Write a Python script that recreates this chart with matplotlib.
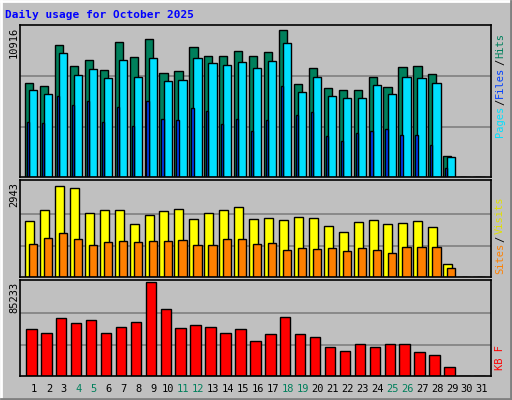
import matplotlib
matplotlib.use("Agg")
import matplotlib.pyplot as plt
import numpy as np

days = list(range(1, 32))
hits = [6772,6555,9520,8001,8435,7712,9736,8652,9953,7495,7640,9375,8724,8724,9086,8724,9013,10604,6700,7857,6411,6266,6266,7206,6483,7929,8001,7423,1494,0,0]
files = [6266,5977,8941,7351,7784,7134,8435,7206,8580,6917,6989,8580,8218,8074,8290,7857,8363,9664,6121,7206,5832,5688,5688,6628,5977,7206,7134,6772,1422,0,0]
pages = [3976,3904,5832,5206,5495,3976,5061,3663,5495,4193,4121,4989,4772,3832,4193,3326,4097,6555,4459,4675,2940,2579,3157,3302,3446,3013,3013,2290,627,0,0]
visits = [1735,2107,2851,2789,2014,2107,2107,1642,1952,2076,2138,1828,2014,2107,2200,1828,1859,1766,1890,1859,1580,1394,1704,1766,1642,1673,1735,1549,403,0,0]
sites = [1023,1209,1364,1178,992,1085,1116,1085,1116,1116,1147,992,992,1178,1178,1023,1054,837,899,868,899,806,899,837,744,930,930,930,279,0,0]
kbytes = [42296,38564,52559,47894,50693,38564,44162,48827,85233,60956,43229,46028,44162,38564,42296,32033,37631,53492,37631,35765,26435,22703,29234,26435,29234,29234,21770,18971,7775,0,0]
weekend_days = [4,5,11,12,18,19,25,26]
max_hits, max_visits, max_kb = 10916, 2943, 85233

W, H = 512, 400
fig = plt.figure(figsize=(W/100, H/100), dpi=100)
fig.patch.set_facecolor('#C0C0C0')
mono = 'DejaVu Sans Mono'

bg = fig.add_axes([0, 0, 1, 1]); bg.set_xlim(0, W); bg.set_ylim(H, 0); bg.axis('off')
bg.plot([1, W-1], [1, 1], color='white', lw=2); bg.plot([1, 1], [1, H-1], color='white', lw=2)
bg.plot([1, W-1], [H-1, H-1], color='#808080', lw=2); bg.plot([W-1, W-1], [1, H-1], color='#808080', lw=2)
bg.text(5, 15, 'Daily usage for October 2025', color='#0000FF', fontsize=8, fontweight='bold', family=mono, va='center')

def panel(y0, y1):
    ax = fig.add_axes([20/W, 1-y1/H, (491-20)/W, (y1-y0)/H])
    ax.set_facecolor('#C0C0C0')
    ax.set_xlim(0.06, 31.6)
    for s in ax.spines.values():
        s.set_color('black'); s.set_linewidth(1.2)
    ax.set_xticks([]); ax.set_yticks([])
    return ax

d = np.array(days)
ek = dict(edgecolor='black', linewidth=1, align='edge')

ax1 = panel(25, 177)
ax1.set_ylim(0, max_hits*1.005)
for g in (max_hits/3, 2*max_hits/3):
    ax1.axhline(g, color='#808080', lw=1.2, zorder=0)
ax1.bar(d-0.6, hits, 0.55, color='#00805C', **ek)
ax1.bar(d-0.33, files, 0.55, color='#00E0FF', **ek)
ax1.bar(d-0.47, pages, 0.15, color='#0040FF', **ek)

ax2 = panel(180, 277)
ax2.set_ylim(0, max_visits*1.03)
for g in (max_visits/3, 2*max_visits/3):
    ax2.axhline(g, color='#808080', lw=1.2, zorder=0)
ax2.bar(d-0.6, visits, 0.6, color='#FFFF00', **ek)
ax2.bar(d-0.33, sites, 0.55, color='#FF8000', **ek)

ax3 = panel(280, 376)
ax3.set_ylim(0, max_kb*1.02)
for g in (max_kb/3, 2*max_kb/3):
    ax3.axhline(g, color='#808080', lw=1.2, zorder=0)
ax3.bar(d-0.53, kbytes, 0.7, color='#FF0000', **ek)

for i in days:
    x = 34 + (i-1)*14.93
    bg.text(x, 389, str(i), color='#00805C' if i in weekend_days else 'black',
            fontsize=7.5, family=mono, ha='center', va='center')

for y, v in ((27, max_hits), (182, max_visits), (282, max_kb)):
    bg.text(14, y, str(v), rotation=90, fontsize=7.5, family=mono, ha='center', va='top')

fig.canvas.draw()
renderer = fig.canvas.get_renderer()

def rlabel(y, parts):
    yy = y
    for txt, col in parts:
        t = bg.text(500, yy, txt, rotation=90, color=col, fontsize=7.5, family=mono,
                    ha='center', va='bottom')
        ext = t.get_window_extent(renderer)
        yy -= ext.height + 1

rlabel(137, [('Pages', '#00E0FF'), ('/', 'black'), ('Files', '#0040FF'), ('/', 'black'), ('Hits', '#00805C')])
rlabel(274, [('Sites', '#FF8000'), ('/', 'black'), ('Visits', '#E0E000')])
rlabel(370, [('KB F', '#FF0000')])

fig.savefig('out.png', dpi=100, facecolor=fig.get_facecolor())
